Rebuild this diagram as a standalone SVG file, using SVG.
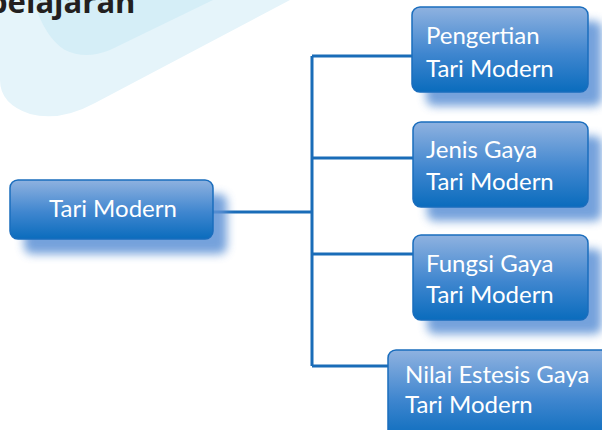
<svg xmlns="http://www.w3.org/2000/svg" width="602" height="430" viewBox="0 0 602 430">
<defs>
<linearGradient id="boxGrad" x1="0" y1="0" x2="0" y2="1">
<stop offset="0" stop-color="#8fb2e0"/>
<stop offset="0.55" stop-color="#3f86cf"/>
<stop offset="1" stop-color="#0a6cbd"/>
</linearGradient>
<filter id="shadow" x="-20%" y="-30%" width="150%" height="180%">
<feGaussianBlur stdDeviation="5"/>
</filter>
</defs>
<style>
.box{fill:url(#boxGrad);stroke:#1a6dbd;stroke-width:1.5}
.shd{fill:#5d92d6;opacity:0.85;filter:url(#shadow)}
.lbl{font-family:Lato,"Open Sans",sans-serif;font-size:24px;fill:#ffffff}
.conn{fill:none;stroke:#1a6cb8;stroke-width:3}
</style>
<g id="background">
<path d="M0,0 L290,0 L95,103 Q60,122 30,114 Q0,104 0,80 Z" fill="#e5f4fa"/>
<path d="M33,0 L213,0 L110,50 Q85,60 65,50 Q45,38 33,0 Z" fill="#d5eef7"/>
<text x="-12" y="13" font-family="'Open Sans',sans-serif" font-weight="bold" font-size="31" fill="#231f20">belajaran</text>
</g>
<g id="connectors">
<path class="conn" d="M213,212 H312 M312,56 V366 M312,56 H413 M312,158 H413 M312,254 H413 M312,366 H389"/>
</g>
<g id="node-main">
<rect class="shd" x="24" y="194" width="203" height="60" rx="8"/>
<rect class="box" x="10" y="180" width="203" height="59" rx="8"/>
<text class="lbl" x="113" y="217" text-anchor="middle">Tari Modern</text>
</g>
<g id="node-pengertian">
<rect class="shd" x="426" y="21" width="176" height="85" rx="8"/>
<rect class="box" x="412" y="7" width="176" height="85" rx="8"/>
<text class="lbl" x="426" y="44">Pengertian</text>
<text class="lbl" x="426" y="77">Tari Modern</text>
</g>
<g id="node-jenis">
<rect class="shd" x="427" y="136" width="175" height="85" rx="8"/>
<rect class="box" x="413" y="122" width="175" height="85" rx="8"/>
<text class="lbl" x="426" y="158">Jenis Gaya</text>
<text class="lbl" x="426" y="190">Tari Modern</text>
</g>
<g id="node-fungsi">
<rect class="shd" x="427" y="249" width="175" height="85" rx="8"/>
<rect class="box" x="413" y="235" width="175" height="85" rx="8"/>
<text class="lbl" x="426" y="272">Fungsi Gaya</text>
<text class="lbl" x="426" y="303">Tari Modern</text>
</g>
<g id="node-nilai">
<rect class="box" x="388" y="350" width="230" height="90" rx="8"/>
<text class="lbl" x="405" y="383">Nilai Estesis Gaya</text>
<text class="lbl" x="405" y="413">Tari Modern</text>
</g>
</svg>
